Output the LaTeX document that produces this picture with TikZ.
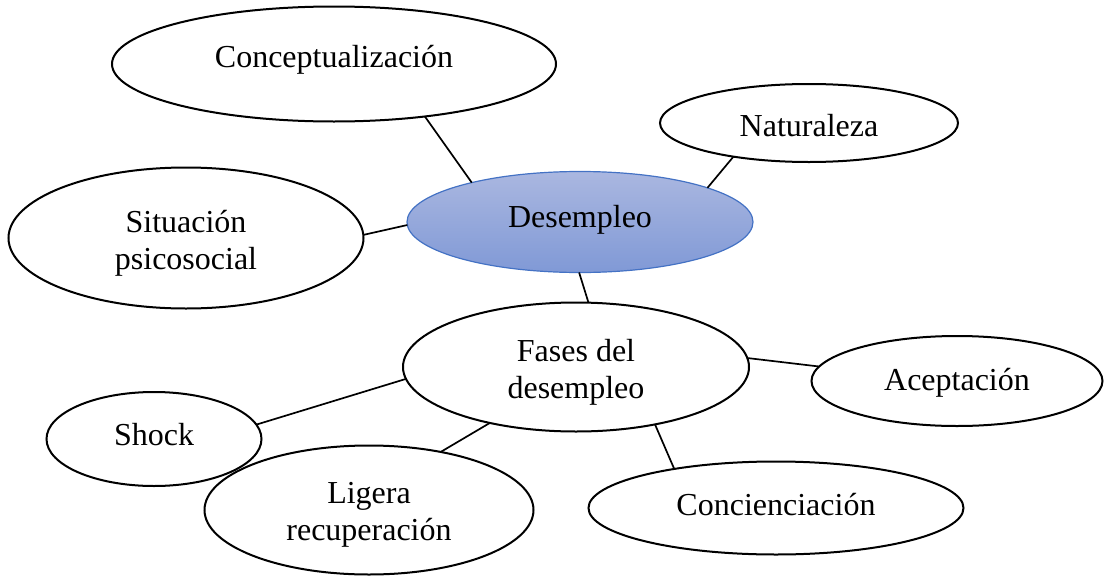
\documentclass[tikz,border=0pt]{standalone}
\usepackage{fontspec}
\setmainfont{Liberation Serif}
\usetikzlibrary{shapes.geometric}
\definecolor{dtop}{RGB}{170,183,224}
\definecolor{dbot}{RGB}{128,153,214}
\definecolor{dline}{RGB}{68,114,196}
\begin{document}
\begin{tikzpicture}[x=1pt,y=-1pt,
  bub/.style={ellipse, draw=black, line width=2pt, inner sep=0pt, outer sep=0pt},
  hub/.style={ellipse, draw=dline, line width=1.2pt, inner sep=0pt, outer sep=0pt, top color=dtop, bottom color=dbot},
  lab/.style={font=\fontsize{32}{37}\selectfont, inner sep=0pt, align=center, anchor=base},
  con/.style={line width=1.7pt}]
\useasboundingbox (0,0) rectangle (1104,576);
% ellipses
\node[bub, minimum width=444pt, minimum height=115pt] (concept) at (334,64) {};
\node[bub, minimum width=298pt, minimum height=78pt] (natur) at (809,123) {};
\node[hub, minimum width=346pt, minimum height=101pt] (desem) at (580,222) {};
\node[bub, minimum width=355pt, minimum height=141pt] (sit) at (186,238) {};
\node[bub, minimum width=346pt, minimum height=129pt] (fases) at (576,367) {};
\node[bub, minimum width=291pt, minimum height=90pt] (acep) at (957,381) {};
\node[bub, minimum width=215pt, minimum height=94pt] (shock) at (154,439) {};
\node[bub, minimum width=329pt, minimum height=129pt] (lig) at (369,510) {};
\node[bub, minimum width=375pt, minimum height=93pt] (conc) at (776,508) {};
% texts
\node[lab] (concept-t) at (334,67) {Conceptualización};
\node[lab] (natur-t) at (809,136) {Naturaleza};
\node[lab] (desem-t) at (580,227) {Desempleo};
\node[lab] (sit-t) at (186,269) {Situación\\psicosocial};
\node[lab] (fases-t) at (576,398) {Fases del\\desempleo};
\node[lab] (acep-t) at (957,390) {Aceptación};
\node[lab] (shock-t) at (154,445) {Shock};
\node[lab] (lig-t) at (369,540) {Ligera\\recuperación};
\node[lab] (conc-t) at (776,515) {Concienciación};
% connectors
\draw[con] (concept.-30) -- (desem.160);
\draw[con] (natur.204) -- (desem.15);
\draw[con] (sit.1) -- (desem.181);
\draw[con] (desem.-91) -- (fases.79);
\draw[con] (fases.3) -- (acep.174);
\draw[con] (fases.184) -- (shock.8);
\draw[con] (fases.213) -- (lig.39);
\draw[con] (fases.-36) -- (conc.159);
\end{tikzpicture}
\end{document}
